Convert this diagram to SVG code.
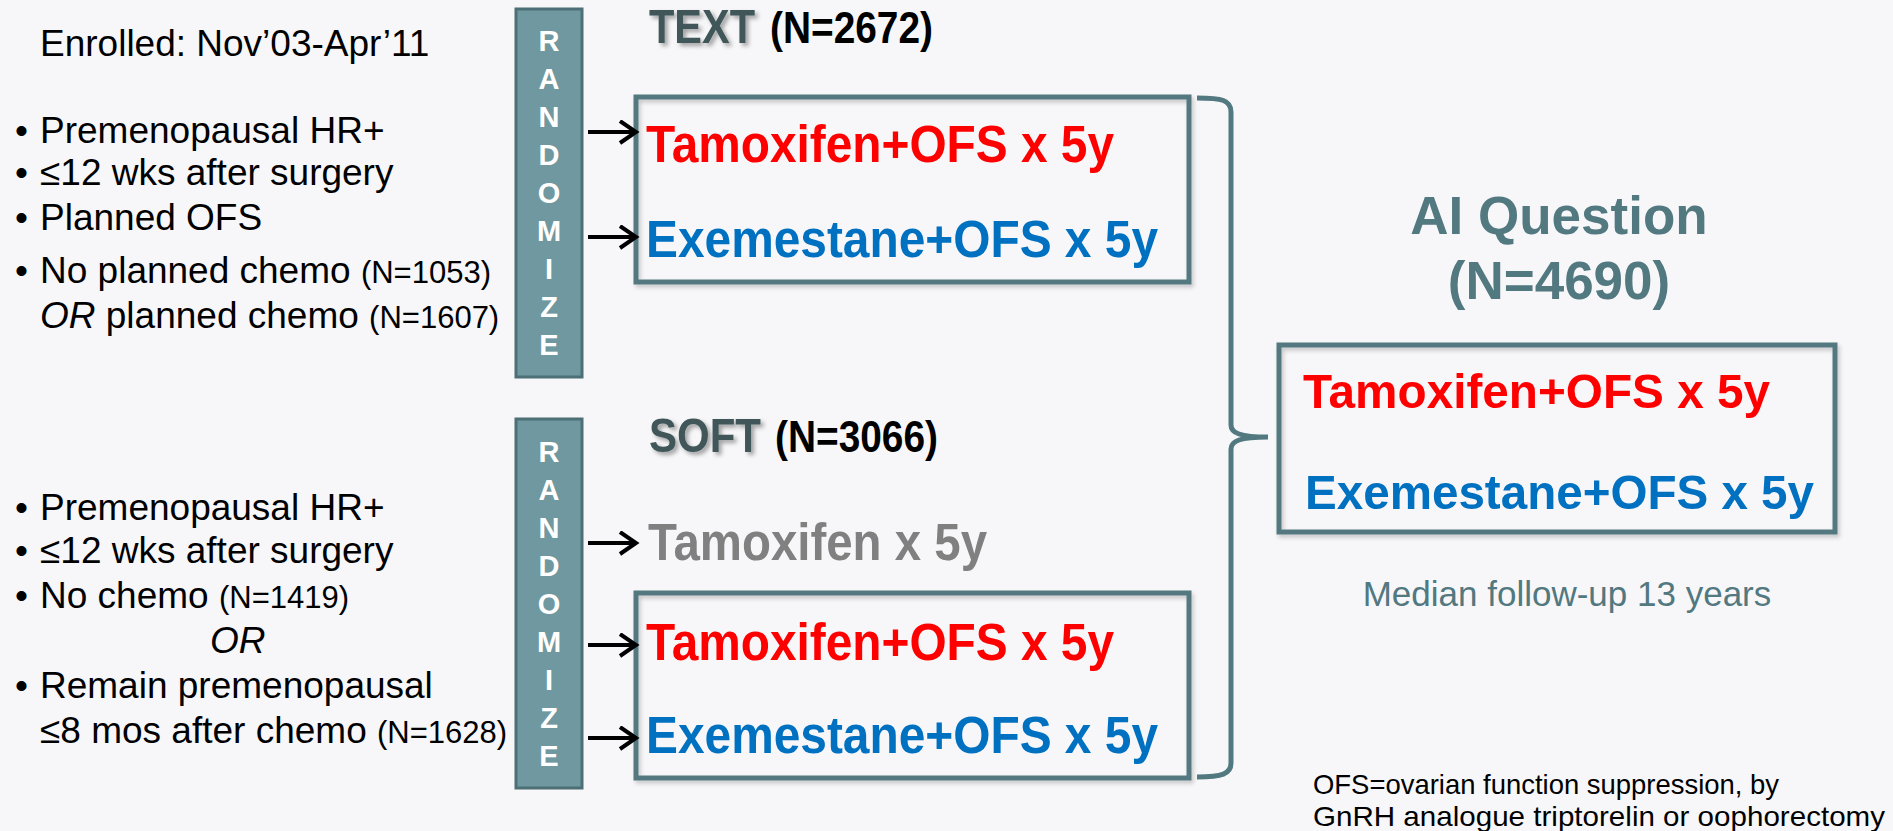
<svg xmlns="http://www.w3.org/2000/svg" width="1893" height="831" viewBox="0 0 1893 831">
<style>
.t{font-family:"Liberation Sans",Arial,sans-serif}
.lt{font-size:37px;fill:#000}
.sm{font-size:31px}
.rz{font-size:29px;font-weight:bold;fill:#fff;text-anchor:middle}
.rzbox{fill:#6f98a0;stroke:#4d6f76;stroke-width:3}
.box{fill:none;stroke:#527880;stroke-width:5}
.arm{font-size:51px;font-weight:bold}
.arm2{font-size:49px;font-weight:bold}
.red{fill:#ff0000}
.blue{fill:#0070c0}
.gray{fill:#808080}
.hd{font-size:49px;font-weight:bold;fill:#3f5659}
.hn{font-size:44px;font-weight:bold;fill:#000}
.ai{font-size:53px;font-weight:bold;fill:#527880;text-anchor:middle}
.conn{stroke:#000;stroke-width:4;fill:none}
</style>
<defs>
<marker id="ah" markerUnits="userSpaceOnUse" markerWidth="24" markerHeight="28" refX="18" refY="12" orient="auto">
<path d="M2,1 L18,12 L2,23" fill="none" stroke="#000" stroke-width="4"/>
</marker>
<filter id="sh" x="-10%" y="-10%" width="130%" height="140%">
<feDropShadow dx="3" dy="3" stdDeviation="2" flood-color="#000" flood-opacity="0.35"/>
</filter>
<filter id="bs" x="-5%" y="-5%" width="110%" height="115%">
<feDropShadow dx="2" dy="3" stdDeviation="2" flood-color="#000" flood-opacity="0.2"/>
</filter>
</defs>
<rect width="1893" height="831" fill="#f7f7f9"/>

<g id="enrolled" class="t">
<text x="40" y="56" class="lt">Enrolled: Nov’03-Apr’11</text>
</g>

<g id="text-criteria" class="t lt">
<text x="15" y="143">•</text><text x="40" y="143">Premenopausal HR+</text>
<text x="15" y="185">•</text><text x="40" y="185">≤12 wks after surgery</text>
<text x="15" y="230">•</text><text x="40" y="230">Planned OFS</text>
<text x="15" y="283">•</text><text x="40" y="283">No planned chemo <tspan class="sm">(N=1053)</tspan></text>
<text x="40" y="328"><tspan font-style="italic">OR</tspan> planned chemo <tspan class="sm">(N=1607)</tspan></text>
</g>

<g id="soft-criteria" class="t lt">
<text x="15" y="520">•</text><text x="40" y="520">Premenopausal HR+</text>
<text x="15" y="563">•</text><text x="40" y="563">≤12 wks after surgery</text>
<text x="15" y="608">•</text><text x="40" y="608">No chemo <tspan class="sm">(N=1419)</tspan></text>
<text x="210" y="653" font-style="italic">OR</text>
<text x="15" y="698">•</text><text x="40" y="698">Remain premenopausal</text>
<text x="40" y="743">≤8 mos after chemo <tspan class="sm">(N=1628)</tspan></text>
</g>

<g id="randomize-text" class="t">
<rect x="516" y="9" width="66" height="368" class="rzbox"/>
<text class="rz" x="549" y="51">R</text>
<text class="rz" x="549" y="89">A</text>
<text class="rz" x="549" y="127">N</text>
<text class="rz" x="549" y="165">D</text>
<text class="rz" x="549" y="203">O</text>
<text class="rz" x="549" y="241">M</text>
<text class="rz" x="549" y="279">I</text>
<text class="rz" x="549" y="317">Z</text>
<text class="rz" x="549" y="355">E</text>
</g>

<g id="randomize-soft" class="t">
<rect x="516" y="419" width="66" height="369" class="rzbox"/>
<text class="rz" x="549" y="462">R</text>
<text class="rz" x="549" y="500">A</text>
<text class="rz" x="549" y="538">N</text>
<text class="rz" x="549" y="576">D</text>
<text class="rz" x="549" y="614">O</text>
<text class="rz" x="549" y="652">M</text>
<text class="rz" x="549" y="690">I</text>
<text class="rz" x="549" y="728">Z</text>
<text class="rz" x="549" y="766">E</text>
</g>

<g id="text-title" class="t">
<text x="649" y="43" class="hd" textLength="106" lengthAdjust="spacingAndGlyphs" filter="url(#sh)">TEXT</text>
<text x="770" y="43" class="hn" textLength="163" lengthAdjust="spacingAndGlyphs">(N=2672)</text>
</g>

<g id="text-arms" class="t">
<rect x="636" y="97" width="553" height="185" class="box" filter="url(#bs)"/>
<text x="646" y="162" class="arm red" textLength="468" lengthAdjust="spacingAndGlyphs">Tamoxifen+OFS x 5y</text>
<text x="646" y="257" class="arm blue" textLength="512" lengthAdjust="spacingAndGlyphs">Exemestane+OFS x 5y</text>
</g>

<g id="soft-title" class="t">
<text x="649" y="452" class="hd" textLength="112" lengthAdjust="spacingAndGlyphs" filter="url(#sh)">SOFT</text>
<text x="775" y="452" class="hn" textLength="163" lengthAdjust="spacingAndGlyphs">(N=3066)</text>
</g>

<g id="soft-tam" class="t">
<text x="648" y="560" class="arm gray" textLength="339" lengthAdjust="spacingAndGlyphs">Tamoxifen x 5y</text>
</g>

<g id="soft-arms" class="t">
<rect x="636" y="593" width="553" height="185" class="box" filter="url(#bs)"/>
<text x="646" y="660" class="arm red" textLength="468" lengthAdjust="spacingAndGlyphs">Tamoxifen+OFS x 5y</text>
<text x="646" y="753" class="arm blue" textLength="512" lengthAdjust="spacingAndGlyphs">Exemestane+OFS x 5y</text>
</g>

<g id="ai-question" class="t">
<text x="1559" y="234" class="ai">AI Question</text>
<text x="1559" y="299" class="ai">(N=4690)</text>
</g>

<g id="ai-arms" class="t">
<rect x="1279" y="345" width="556" height="187" class="box" filter="url(#bs)"/>
<text x="1303" y="408" class="arm2 red" textLength="467" lengthAdjust="spacingAndGlyphs">Tamoxifen+OFS x 5y</text>
<text x="1305" y="509" class="arm2 blue" textLength="509" lengthAdjust="spacingAndGlyphs">Exemestane+OFS x 5y</text>
</g>

<g id="follow-up" class="t">
<text x="1567" y="606" font-size="35" fill="#527880" text-anchor="middle">Median follow-up 13 years</text>
</g>

<g id="footnote" class="t" font-size="28.5" fill="#000">
<text x="1313" y="794" textLength="466" lengthAdjust="spacingAndGlyphs">OFS=ovarian function suppression, by</text>
<text x="1313" y="826" textLength="572" lengthAdjust="spacingAndGlyphs">GnRH analogue triptorelin or oophorectomy</text>
</g>

<g id="connectors">
<line x1="588" y1="132" x2="636" y2="132" class="conn" marker-end="url(#ah)"/>
<line x1="588" y1="237" x2="636" y2="237" class="conn" marker-end="url(#ah)"/>
<line x1="588" y1="543" x2="636" y2="543" class="conn" marker-end="url(#ah)"/>
<line x1="588" y1="645" x2="636" y2="645" class="conn" marker-end="url(#ah)"/>
<line x1="588" y1="738" x2="636" y2="738" class="conn" marker-end="url(#ah)"/>
<path d="M1197,98 C1222,98 1231,100 1231,112 L1231,425 C1231,433 1240,437 1268,437 C1240,437 1231,441 1231,449 L1231,763 C1231,774 1222,777 1197,777" fill="none" stroke="#527880" stroke-width="5"/>
</g>
</svg>
